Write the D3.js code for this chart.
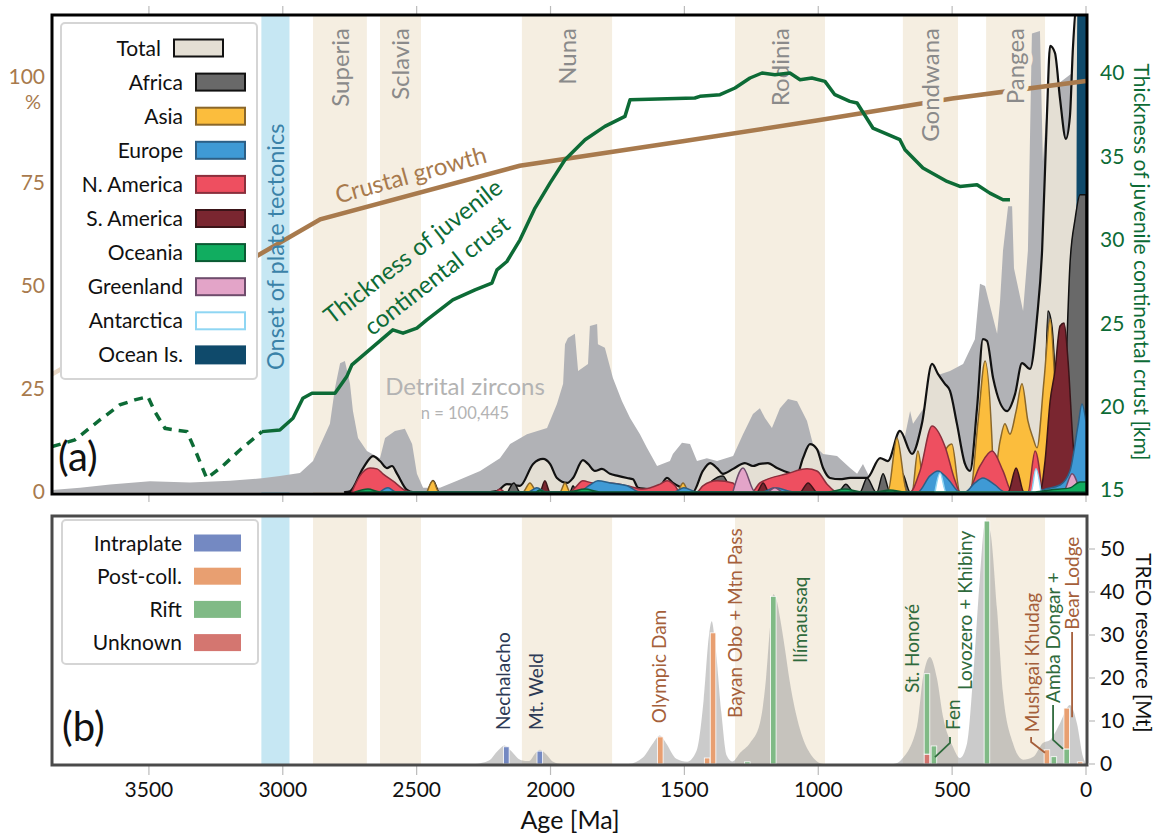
<!DOCTYPE html>
<html><head><meta charset="utf-8">
<script src="https://cdn.jsdelivr.net/npm/d3@7"></script>
<style>body{margin:0;background:#fff}svg{display:block;font-family:Lato,'Open Sans',sans-serif}</style>
</head><body><svg id="c" width="1159" height="834"></svg>
<script>
// ---------------- DATA ----------------
const ageTicks=[3500,3000,2500,2000,1500,1000,500,0];
const pctTicks=[0,25,50,75,100];
const kmTicks=[15,20,25,30,35,40];
const mtTicks=[0,10,20,30,40,50];

const onsetBand=[3080,2975];
const bandNames=["Superia","Sclavia","Nuna","Rodinia","Gondwana","Pangea"];
const bandFrom=[2887,2637,2107,1311,684,373];
const bandTo=[2686,2484,1770,975,478,153];

const crustalGrowth=[[3862,28.5],[2860,66],[2115,79],[1500,85],[1000,90],[500,95.3],[0,99.5]];
const crustThickness=[[3862,17.6],[3777,18.0],[3683,19.2],[3609,20.1],[3553,20.4],[3504,20.6],[3478,19.7],[3440,18.7],[3403,18.6],[3358,18.5],[3325,17.3],[3284,15.7],[3227,16.4],[3160,17.4],[3078,18.5],[3011,18.6],[2962,19.3],[2925,20.5],[2891,20.8],[2805,20.8],[2761,21.8],[2742,22.5],[2589,24.6],[2551,24.4],[2499,24.7],[2462,25.2],[2365,26.4],[2282,27.0],[2219,27.4],[2200,28.2],[2163,28.7],[2114,30.0],[2058,31.9],[2002,33.4],[1946,34.8],[1871,36.0],[1797,36.8],[1722,37.4],[1703,38.4],[1461,38.5],[1442,38.6],[1367,38.7],[1311,39.1],[1255,39.7],[1210,40.0],[1162,39.9],[1106,40.0],[1068,39.6],[1024,39.7],[975,39.5],[938,38.7],[882,38.3],[855,38.2],[796,36.7],[695,36.0],[676,35.4],[609,34.3],[519,33.5],[471,33.2],[407,33.3],[359,32.8],[310,32.4],[284,32.4]];
const dashedUntil=3078;

const zircons=[[3862,0.5],[3757,1.0],[3645,1.8],[3496,2.6],[3347,2.3],[3197,2.7],[3078,3.3],[3011,3.9],[2936,4.6],[2887,7.5],[2824,16.5],[2805,25.2],[2786,31.2],[2768,31.7],[2749,26.2],[2738,19.6],[2719,13.1],[2686,9.9],[2637,8.2],[2618,13.1],[2581,14.8],[2544,15.3],[2517,11.6],[2499,4.4],[2476,1.0],[2413,1.0],[2349,2.7],[2263,5.1],[2189,8.2],[2151,11.6],[2088,14.0],[2013,15.5],[1976,21.3],[1953,26.2],[1946,35.8],[1935,37.3],[1909,38.3],[1897,29.3],[1860,31.0],[1853,40.2],[1826,40.7],[1823,35.8],[1797,34.9],[1767,27.6],[1733,22.0],[1703,17.9],[1666,14.0],[1640,10.7],[1602,6.3],[1554,7.5],[1543,9.2],[1509,11.9],[1479,11.6],[1453,7.5],[1416,8.2],[1378,7.5],[1318,8.7],[1281,14.0],[1244,18.9],[1218,20.3],[1199,17.9],[1173,15.5],[1143,20.3],[1113,22.5],[1079,22.0],[1042,17.2],[1020,11.6],[982,9.2],[930,8.7],[881,5.8],[855,4.4],[833,6.8],[807,3.4],[769,5.1],[713,9.9],[676,13.6],[657,19.6],[646,16.5],[601,20.8],[564,28.1],[508,29.3],[459,31.0],[415,37.0],[396,50.4],[377,49.9],[366,47.0],[332,38.3],[321,46.2],[310,58.4],[291,69.2],[276,69.2],[269,54.2],[235,43.8],[217,58.4],[202,111],[172,111.6],[161,80.1],[142,97],[0,104]];

const total=[[2768,0],[2749,0.2],[2700,5.8],[2663,8.7],[2637,7.5],[2611,5.8],[2592,6.3],[2573,4.4],[2536,0.5],[2514,0],[2461,0],[2439,2.7],[2417,0],[2226,0],[2200,0.2],[2163,1.9],[2114,1.5],[2065,6.8],[2028,8.0],[2002,6.8],[1976,3.4],[1938,2.2],[1916,3.4],[1879,7.7],[1860,6.8],[1834,5.1],[1808,5.6],[1778,4.4],[1748,3.9],[1714,3.4],[1692,3.1],[1673,1.0],[1640,0.7],[1602,0.2],[1565,3.4],[1543,2.2],[1509,1.0],[1468,0],[1431,5.1],[1404,7.0],[1378,5.8],[1356,4.4],[1318,5.6],[1274,7.0],[1244,6.3],[1218,6.8],[1188,7.0],[1154,5.8],[1106,4.6],[1079,4.4],[1057,8.2],[1031,11.6],[1005,10.4],[982,5.8],[956,3.4],[919,3.1],[881,3.4],[818,3.4],[769,8.2],[740,7.5],[695,14.8],[650,9.2],[613,16.5],[575,31.0],[553,28.6],[527,26.2],[508,24.5],[482,16.5],[452,6.8],[433,5.1],[407,20.3],[385,37.0],[370,36.6],[347,27.6],[295,19.6],[265,23.7],[239,31.2],[209,29.8],[183,42.1],[164,58.4],[146,91],[134,108],[116,106.3],[97,95.2],[75,85.5],[60,91],[49,107.3],[34,118],[0,118]];

const africa=[[2159,0],[2137,2.2],[2114,0],[1927,0],[1916,1.5],[1901,0],[1431,0],[1397,2.7],[1356,3.9],[1319,0],[1080,0],[1038,2.2],[994,0],[926,0],[897,1.9],[867,0],[844,0],[818,3.4],[784,0],[781,0],[758,4.4],[732,0],[717,0],[687,4.6],[657,0],[628,0],[601,3.1],[575,0],[172,0],[157,12],[142,43.8],[127,40],[112,25],[90,8],[75,30],[60,55],[41,66],[22,72],[0,72]];
const asia=[[2461,0],[2439,2.7],[2417,0],[2103,0],[2077,2.2],[2051,0],[1965,0],[1946,2.2],[1927,0],[1528,0],[1505,2.2],[1483,0],[740,0],[706,13.1],[669,0],[650,0],[628,9.9],[601,0],[545,0],[527,9.9],[501,11.6],[471,0],[433,0],[403,17.2],[377,31.7],[351,12.3],[345,3],[321,12.3],[303,16.5],[284,14.0],[261,19.6],[239,26.2],[217,17.2],[198,13.1],[183,10.7],[157,26.9],[134,41.9],[116,26.2],[97,0]];
const nAmerica=[[2742,0],[2712,3.9],[2674,5.8],[2648,5.6],[2626,4.4],[2589,2.7],[2536,0.2],[2514,0],[2208,0],[2189,0.7],[2170,0],[1927,0],[1909,1.0],[1879,2.7],[1841,2.2],[1778,2.2],[1714,1.5],[1655,0.7],[1591,1.9],[1565,2.7],[1535,1.5],[1517,0],[1453,0],[1431,1.5],[1378,2.7],[1319,2.2],[1292,0],[1248,0],[1218,2.2],[1117,4.4],[1042,5.6],[1005,5.1],[967,1.9],[930,0],[657,0],[620,5.1],[575,16.0],[527,11.1],[489,2.7],[471,0],[444,0],[396,6.3],[351,9.9],[310,5.1],[276,0],[217,0],[190,9.9],[164,0]];
const sAmerica=[[2036,0],[2021,2.7],[2002,0],[1229,0],[1206,2.2],[1184,0],[1068,0],[1038,2.2],[1005,0],[291,0],[261,5.8],[232,0],[172,0],[153,7.5],[134,22],[116,29.3],[97,40.2],[82,40.9],[67,31.7],[49,12.3],[30,0]];
const europe=[[2637,0],[2607,1.0],[2577,0],[2084,0],[2051,1.0],[2017,0],[1898,0],[1853,1.7],[1823,2.7],[1778,2.2],[1714,1.5],[1666,0],[1539,0],[1502,1.0],[1453,0],[1210,0],[1162,1.0],[1087,0],[628,0],[583,3.9],[553,5.1],[515,3.1],[471,0],[452,0],[415,2.2],[385,3.4],[340,1.7],[303,0],[190,0],[153,0.7],[97,1.7],[60,5.1],[30,16],[15,21.3],[0,17]];
const greenland=[[1319,0],[1281,5.8],[1236,0],[1192,0],[1162,1.0],[1132,0],[86,0],[52,4.4],[22,0]];
const antarctica=[[564,0],[545,4.6],[523,0],[205,0],[187,5.6],[168,0]];
const oceania=[[2730,0],[2682,0.7],[2637,0],[2055,0],[2040,0.5],[2020,0],[1935,0],[1871,0.7],[1815,0],[964,0],[900,0.7],[837,0],[788,0],[732,0.5],[676,0],[190,0],[134,0.5],[60,1.0],[22,2.4],[0,2.4]];
const oceanIs=[[41,0],[34,46],[30,120],[0,120]];

const regionNames=["Total","Africa","Asia","Europe","N. America","S. America","Oceania","Greenland","Antarctica","Ocean Is."];

// panel b
const depositTypes=["Intraplate","Post-coll.","Rift","Unknown"];
const depAge=[2165,2040,1590,1415,1393,1265,1168,594,594,568,370,146,120,72,72,22];
const depType=["Intraplate","Intraplate","Post-coll.","Post-coll.","Post-coll.","Rift","Rift","Unknown","Rift","Rift","Rift","Post-coll.","Rift","Rift","Post-coll.","Post-coll."];
const depValue=[4.0,3.0,6.3,1.4,30.5,0.5,39.0,2.3,18.7,4.2,56.5,3.3,1.7,3.5,9.5,0.5];

const resDensity=[[2280,0],[2230,0.8],[2195,3.2],[2172,4.3],[2150,3.2],[2110,0.9],[2080,0.7],[2058,2.4],[2040,3.3],[2020,2.5],[1990,0.5],[1960,0],[1710,0],[1655,1.5],[1615,5],[1592,6.6],[1570,5],[1530,1.2],[1490,0.5],[1455,3],[1428,15],[1408,30],[1398,33.2],[1385,28],[1362,12],[1342,2],[1320,0.6],[1292,2.6],[1255,4.9],[1218,9.5],[1195,20],[1180,32],[1168,39.5],[1155,38],[1143,34],[1125,27],[1106,19],[1068,8],[1031,2.5],[980,0],[720,0],[690,1],[631,8.8],[609,20],[583,24.9],[557,20],[534,11],[497,4],[471,1.4],[444,4.9],[422,20],[396,43.5],[377,56],[359,54.4],[332,35.8],[310,16.5],[273,4.9],[235,1],[198,1.6],[161,4.9],[134,5.6],[97,9.5],[60,13.7],[34,9.5],[11,1.6],[0,0]];

const depLabels=["Nechalacho","Mt. Weld","Olympic Dam","Bayan Obo + Mtn Pass","Ilímaussaq","St. Honoré","Fen","Lovozero + Khibiny","Mushgai Khudag","Amba Dongar +","Bear Lodge"];
const depLabelAge=[2178,2054,1594,1311,1069,650,497,452,202,123,52];
const depLabelMt=[7.9,7.9,9.5,10.7,23.5,16.5,7.9,17.2,7.4,14.2,31.2];
const depLabelType=["Intraplate","Intraplate","Post-coll.","Post-coll.","Rift","Rift","Rift","Rift","Post-coll.","Rift","Post-coll."];
const leaders=[
 {type:"Rift",pts:[[508,6.3],[508,4.9],[564,1.6]]},
 {type:"Post-coll.",pts:[[205,6.3],[205,5.1],[153,2.6]]},
 {type:"Rift",pts:[[123,13.7],[123,5.6],[86,3.5]]},
 {type:"Post-coll.",pts:[[52,30.7],[52,10.9]]}
];

// ---------------- STYLE ----------------
const regionStyle={
 "Total":{fill:"#e4dfd4",stroke:"#111"},
 "Africa":{fill:"#696969",stroke:"#111"},
 "Asia":{fill:"#fbbd3d",stroke:"#8a672a"},
 "Europe":{fill:"#3f9ad5",stroke:"#2c5f86"},
 "N. America":{fill:"#ee4f60",stroke:"#8a2f3c"},
 "S. America":{fill:"#7a2630",stroke:"#3b1418"},
 "Oceania":{fill:"#11ad60",stroke:"#0b5a33"},
 "Greenland":{fill:"#e3a4c8",stroke:"#6e4c6c"},
 "Antarctica":{fill:"#ffffff",stroke:"#8fd6f3"},
 "Ocean Is.":{fill:"#0f4a6b",stroke:"#0f4a6b"}
};
const typeColor={"Intraplate":"#7489c2","Post-coll.":"#e89f71","Rift":"#80ba86","Unknown":"#d47670"};
const typeText={"Intraplate":"#2d3a55","Post-coll.":"#a55f3b","Rift":"#2f6a3c","Unknown":"#a04040"};
const brown="#a87a4d", green="#0d6b36", bandFill="#f5eee1", onsetFill="#c6e7f3";

// ---------------- LAYOUT ----------------
const svg=d3.select("#c");
const L=52,R=1087,aT=15,aB=494,bT=516,bB=765;
const x=d3.scaleLinear().domain([3862,0]).range([52,1086]);
const yA=d3.scaleLinear().domain([0,100]).range([492,79]);
const yK=d3.scaleLinear().domain([15,40]).range([490,73]);
const yB=d3.scaleLinear().domain([0,50]).range([764,549]);

const defs=svg.append("defs");
defs.append("clipPath").attr("id","ca").append("rect").attr("x",L).attr("y",aT).attr("width",R-L).attr("height",aB-aT);
defs.append("clipPath").attr("id","cb").append("rect").attr("x",L).attr("y",bT).attr("width",R-L).attr("height",bB-bT);
const gr=defs.append("linearGradient").attr("id","cg").attr("gradientUnits","userSpaceOnUse").attr("x1",52).attr("x2",200).attr("y1",0).attr("y2",0);
gr.append("stop").attr("offset",0).attr("stop-color","#ecdccb");
gr.append("stop").attr("offset",1).attr("stop-color",brown);

// ticks outside
const tg=svg.append("g");
ageTicks.forEach(t=>{
 tg.append("line").attr("x1",x(t)).attr("x2",x(t)).attr("y1",6).attr("y2",aT).attr("stroke","#bbb").attr("stroke-width",1.2);
 tg.append("line").attr("x1",x(t)).attr("x2",x(t)).attr("y1",aB).attr("y2",502).attr("stroke","#bbb").attr("stroke-width",1.2);
 tg.append("line").attr("x1",x(t)).attr("x2",x(t)).attr("y1",bB).attr("y2",775).attr("stroke","#bbb").attr("stroke-width",1.2);
 tg.append("text").attr("x",x(t)).attr("y",797).attr("text-anchor","middle").attr("font-size",21).attr("fill","#111").text(t);
});
svg.append("text").attr("x",570).attr("y",829).attr("text-anchor","middle").attr("font-size",25).attr("fill","#111").text("Age [Ma]");

// ---------- PANEL A ----------
const ga=svg.append("g").attr("clip-path","url(#ca)");
function bands(g,top,bot){
 g.append("rect").attr("x",x(onsetBand[0])).attr("width",x(onsetBand[1])-x(onsetBand[0])).attr("y",top).attr("height",bot-top).attr("fill",onsetFill);
 bandNames.forEach((n,i)=>g.append("rect").attr("x",x(bandFrom[i])).attr("width",x(bandTo[i])-x(bandFrom[i])).attr("y",top).attr("height",bot-top).attr("fill",bandFill));
}
bands(ga,aT,aB);

const areaA=(curve)=>d3.area().x(d=>x(d[0])).y0(yA(0)).y1(d=>yA(d[1])).curve(curve);
ga.append("path").datum(zircons).attr("d",areaA(d3.curveLinear)).attr("fill","#b1b2b6");

const seriesData={"Total":total,"Ocean Is.":oceanIs,"Africa":africa,"Asia":asia,"N. America":nAmerica,"S. America":sAmerica,"Europe":europe,"Greenland":greenland,"Antarctica":antarctica,"Oceania":oceania};
["Total","Ocean Is.","Africa","Asia","N. America","S. America","Europe","Greenland","Antarctica","Oceania"].forEach(k=>{
 const st=regionStyle[k];
 ga.append("path").datum(seriesData[k]).attr("d",areaA(d3.curveMonotoneX)).attr("fill",st.fill)
   .attr("stroke",st.stroke).attr("stroke-width",k==="Total"?2.2:1.5).attr("stroke-linejoin","round");
});

// crustal growth line
ga.append("path").datum(crustalGrowth).attr("d",d3.line().x(d=>x(d[0])).y(d=>yA(d[1]))).attr("fill","none").attr("stroke","url(#cg)").attr("stroke-width",4.5);

// band labels with halo
const ta=svg.append("g");
bandNames.forEach((n,i)=>{
 const cx=(x(bandFrom[i])+x(bandTo[i]))/2;
 ta.append("text").attr("transform",`translate(${cx},28) rotate(-90)`).attr("text-anchor","end").attr("dy","0.36em")
  .attr("font-size",24).attr("fill","#8a8a8a").attr("stroke",bandFill).attr("stroke-width",9).attr("paint-order","stroke").text(n);
});
ta.append("text").attr("transform",`translate(${(x(onsetBand[0])+x(onsetBand[1]))/2},370) rotate(-90)`).attr("text-anchor","start").attr("dy","0.36em")
  .attr("font-size",23.5).attr("fill","#3a82a8").text("Onset of plate tectonics");

// crust thickness
const lineK=d3.line().x(d=>x(d[0])).y(d=>yK(d[1]));
const ga2=svg.append("g").attr("clip-path","url(#ca)");
ga2.append("path").datum(crustThickness.filter(d=>d[0]>=dashedUntil)).attr("d",lineK).attr("fill","none").attr("stroke",green).attr("stroke-width",3.5).attr("stroke-dasharray","9,7");
ga2.append("path").datum(crustThickness.filter(d=>d[0]<=dashedUntil)).attr("d",lineK).attr("fill","none").attr("stroke",green).attr("stroke-width",3.5).attr("stroke-linejoin","round");

// annotations
ta.append("text").attr("transform","translate(413,183) rotate(-15.5)").attr("text-anchor","middle").attr("font-size",24).attr("fill",brown).text("Crustal growth");
ta.append("text").attr("transform","translate(418,258) rotate(-38)").attr("text-anchor","middle").attr("font-size",24).attr("fill",green).text("Thickness of juvenile");
ta.append("text").attr("transform","translate(442,282) rotate(-38)").attr("text-anchor","middle").attr("font-size",24).attr("fill",green).text("continental crust");
ta.append("text").attr("x",465).attr("y",395).attr("text-anchor","middle").attr("font-size",24).attr("fill","#b3b3b3").text("Detrital zircons");
ta.append("text").attr("x",465).attr("y",419).attr("text-anchor","middle").attr("font-size",16.5).attr("fill","#b3b3b3").text("n = 100,445");
ta.append("text").attr("x",58).attr("y",471).attr("font-size",40).attr("fill","#111").text("(a)");

// frame A
svg.append("rect").attr("x",L).attr("y",aT).attr("width",R-L).attr("height",aB-aT).attr("fill","none").attr("stroke","#000").attr("stroke-width",3);

// left axis
pctTicks.forEach(t=>svg.append("text").attr("x",45).attr("y",yA(t)-(t===100?2:0)).attr("dy","0.35em").attr("text-anchor","end").attr("font-size",21).attr("fill",brown).text(t));
svg.append("text").attr("x",33).attr("y",yA(100)+23).attr("dy","0.35em").attr("text-anchor","middle").attr("font-size",20).attr("fill",brown).text("%");
// right axis km
kmTicks.forEach(t=>svg.append("text").attr("x",1100).attr("y",yK(t)).attr("dy","0.35em").attr("font-size",21).attr("fill",green).text(t));
svg.append("text").attr("transform","translate(1134,262) rotate(90)").attr("text-anchor","middle").attr("font-size",21).attr("fill",green).text("Thickness of juvenile continental crust [km]");

// legend A
const lg=svg.append("g");
lg.append("rect").attr("x",61).attr("y",23).attr("width",196).attr("height",356).attr("rx",4).attr("fill","#fff").attr("stroke","#d5d5d5").attr("stroke-width",2);
regionNames.forEach((n,i)=>{
 const cy=48+i*34.1, st=regionStyle[n];
 const off=i===0?-22:0;
 lg.append("text").attr("x",183+off).attr("y",cy).attr("dy","0.36em").attr("text-anchor","end").attr("font-size",21).attr("fill","#111").text(n);
 lg.append("rect").attr("x",196+off).attr("y",cy-8.5).attr("width",49).attr("height",17).attr("fill",st.fill).attr("stroke",st.stroke).attr("stroke-width",2);
});

// ---------- PANEL B ----------
const gb=svg.append("g").attr("clip-path","url(#cb)");
bands(gb,bT,bB);
gb.append("path").datum(resDensity).attr("d",d3.area().x(d=>x(d[0])).y0(yB(0)).y1(d=>yB(d[1])).curve(d3.curveMonotoneX)).attr("fill","#9c9c9c").attr("fill-opacity",0.52);

// stacked bars
const stackBase={};
depAge.forEach((a,i)=>{
 const b=stackBase[a]||0;
 gb.append("rect").attr("x",x(a)-2.8).attr("width",5.6).attr("y",yB(b+depValue[i])).attr("height",yB(b)-yB(b+depValue[i]))
  .attr("fill",typeColor[depType[i]]).attr("stroke","#fff").attr("stroke-width",0.8);
 stackBase[a]=b+depValue[i];
});
// labels
depLabels.forEach((n,i)=>{
 svg.append("text").attr("transform",`translate(${x(depLabelAge[i])},${yB(depLabelMt[i])}) rotate(-90)`).attr("dy","0.36em")
  .attr("font-size",19).attr("fill",typeText[depLabelType[i]]).text(n);
});
leaders.forEach(l=>svg.append("path").datum(l.pts).attr("d",d3.line().x(d=>x(d[0])).y(d=>yB(d[1]))).attr("fill","none").attr("stroke",typeText[l.type]).attr("stroke-width",1.8));

svg.append("text").attr("x",62).attr("y",741).attr("font-size",40).attr("fill","#111").text("(b)");
svg.append("rect").attr("x",L).attr("y",bT).attr("width",R-L).attr("height",bB-bT).attr("fill","none").attr("stroke","#4a4a4a").attr("stroke-width",3);

// right axis Mt
mtTicks.forEach(t=>{
 svg.append("line").attr("x1",R+1).attr("x2",R+8).attr("y1",yB(t)).attr("y2",yB(t)).attr("stroke","#bbb").attr("stroke-width",1.2);
 svg.append("text").attr("x",1100).attr("y",yB(t)).attr("dy","0.35em").attr("font-size",21).attr("fill","#111").text(t);
});
svg.append("text").attr("transform","translate(1136,643) rotate(90)").attr("text-anchor","middle").attr("font-size",20.5).attr("fill","#111").text("TREO resource [Mt]");

// legend B
const lb=svg.append("g");
lb.append("rect").attr("x",62).attr("y",520).attr("width",196).attr("height",144).attr("rx",4).attr("fill","#fff").attr("stroke","#d5d5d5").attr("stroke-width",2);
depositTypes.forEach((t,i)=>{
 const cy=543+i*33.2;
 lb.append("text").attr("x",182).attr("y",cy).attr("dy","0.36em").attr("text-anchor","end").attr("font-size",21).attr("fill","#111").text(t);
 lb.append("rect").attr("x",194).attr("y",cy-8.5).attr("width",47).attr("height",17).attr("fill",typeColor[t]);
});
</script></body></html>
